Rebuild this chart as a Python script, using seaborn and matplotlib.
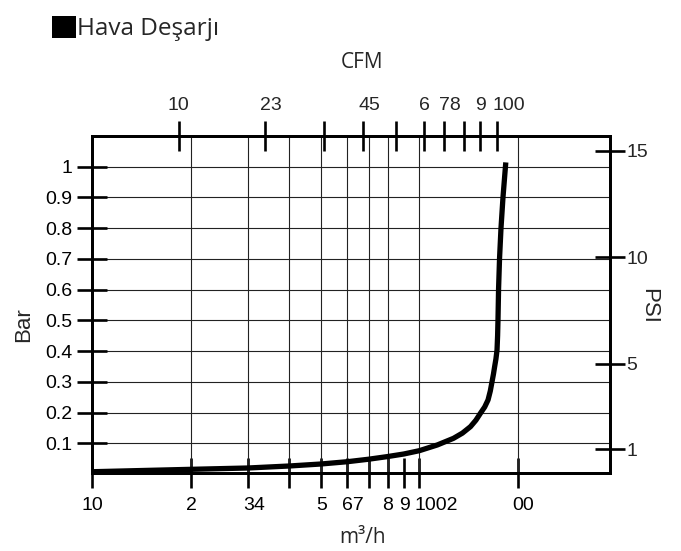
import matplotlib
matplotlib.use("Agg")
import matplotlib.pyplot as plt
from matplotlib.patches import Patch
from matplotlib.ticker import NullLocator
from matplotlib.transforms import ScaledTranslation
import pandas as pd
import seaborn as sns

# discharge curve (m³/h, bar)
flow_m3h = [10.11, 20.2, 29.9, 40.0, 50.0, 60.3, 69.9, 79.5, 89.6, 100.0, 113.5,
            127.2, 135.5, 143.4, 149.0, 153.8, 158.5, 162.3, 164.9, 166.9, 168.6,
            170.0, 171.6, 172.9, 173.6, 174.1, 174.8, 176.0, 177.8, 180.3, 183.9]
pressure_bar = [0.0075, 0.0153, 0.0195, 0.026, 0.0325, 0.040, 0.048, 0.0563, 0.065,
                0.0758, 0.0944, 0.116, 0.133, 0.154, 0.175, 0.1975, 0.218, 0.241,
                0.270, 0.300, 0.325, 0.349, 0.375, 0.4035, 0.45, 0.504, 0.604,
                0.702, 0.800, 0.900, 1.014]

bar_ticks = [0.1, 0.2, 0.3, 0.4, 0.5, 0.6, 0.7, 0.8, 0.9, 1.0]
bar_labels = ["0.1", "0.2", "0.3", "0.4", "0.5", "0.6", "0.7", "0.8", "0.9", "1"]
psi_ticks = [1, 5, 10, 15]
m3h_ticks = [10, 20, 30, 40, 50, 60, 70, 80, 90, 100, 200]
m3h_labels = ["10", "2", "34", "", "5", "67", "", "8", "9", "1002", "00"]
grid_m3h = [20, 30, 40, 50, 60, 70, 80, 100, 200]
# CFM ticks as they sit on the m³/h scale
cfm_ticks_m3h = [18.4, 33.8, 51.0, 67.5, 84.8, 103.3, 118.9, 136.8, 153.8, 172.9]
cfm_labels = ["10", "23", "", "45", "", "6", "78", "", "9", "100"]

sns.set_style("white")
plt.rcParams["font.family"] = ["Liberation Sans", "DejaVu Sans"]
title_font = {"family": ["Open Sans", "DejaVu Sans"], "size": 15}

fig = plt.figure(figsize=(6.81, 5.51), dpi=100)
ax = fig.add_axes([0.1355, 0.1416, 0.7602, 0.6116])

for g in grid_m3h:
    ax.axvline(g, color="#222222", lw=0.8, zorder=1)

df = pd.DataFrame({"flow": flow_m3h, "bar": pressure_bar})
sns.lineplot(data=df, x="flow", y="bar", sort=False, estimator=None,
             color="black", lw=3.8, solid_capstyle="butt",
             solid_joinstyle="round", ax=ax, zorder=3)
ax.set_xscale("log")
ax.set_xlim(10.11, 383)
ax.set_ylim(0.0033, 1.1)

ax.set_xticks(m3h_ticks, labels=m3h_labels)
ax.xaxis.set_minor_locator(NullLocator())
ax.set_yticks(bar_ticks, labels=bar_labels)
ax.yaxis.set_minor_locator(NullLocator())
ax.grid(True, which="major", axis="y", color="#222222", lw=0.8)
ax.tick_params(which="major", direction="inout", length=21, width=1.9,
               color="black", labelsize=14, labelcolor="black")
ax.tick_params(axis="x", pad=7)
ax.tick_params(axis="y", pad=3.6)

axt = ax.twiny()
axt.set_xscale("log")
axt.set_xlim(ax.get_xlim())
axt.set_xticks(cfm_ticks_m3h, labels=cfm_labels)
axt.xaxis.set_minor_locator(NullLocator())
axt.tick_params(direction="inout", length=21, width=1.9, color="black",
                labelsize=14, pad=5)

axr = ax.twinx()
axr.set_ylim(-0.1125, 15.687)
axr.set_yticks(psi_ticks)
axr.yaxis.set_minor_locator(NullLocator())
axr.tick_params(direction="inout", length=21, width=1.9, color="black",
                labelsize=14, pad=1.5)

for a in (ax, axt, axr):
    for s in a.spines.values():
        s.set_color("black")
        s.set_linewidth(1.9)

# labels start just left of their tick
shift = ScaledTranslation(-5 / 100, 0, fig.dpi_scale_trans)
for lab in list(ax.get_xticklabels()) + list(axt.get_xticklabels()):
    if lab.get_text() != "10":
        lab.set_horizontalalignment("left")
        lab.set_transform(lab.get_transform() + shift)

ax.set_xlabel("m³/h", fontdict=title_font, va="center")
ax.xaxis.set_label_coords(0.523, -0.19)
axt.set_xlabel("CFM", fontdict=title_font, va="center")
axt.xaxis.set_label_coords(0.521, 1.2166)
ax.set_ylabel("Bar", fontsize=16, va="center")
ax.yaxis.set_label_coords(-0.133, 0.439)
axr.set_ylabel("PSI", fontsize=16, rotation=270, va="center")
axr.yaxis.set_label_coords(1.075, 0.4955)

fig.legend(handles=[Patch(facecolor="black", edgecolor="none", label="Hava Deşarjı")],
           loc="upper left", bbox_to_anchor=(51.7 / 681, 1 - 16 / 551),
           frameon=False, borderpad=0, borderaxespad=0, handlelength=1.0,
           handleheight=1.0, handletextpad=0.03,
           prop={"family": ["Open Sans", "DejaVu Sans"], "size": 17.5})

fig.savefig("out.png", dpi=100)
